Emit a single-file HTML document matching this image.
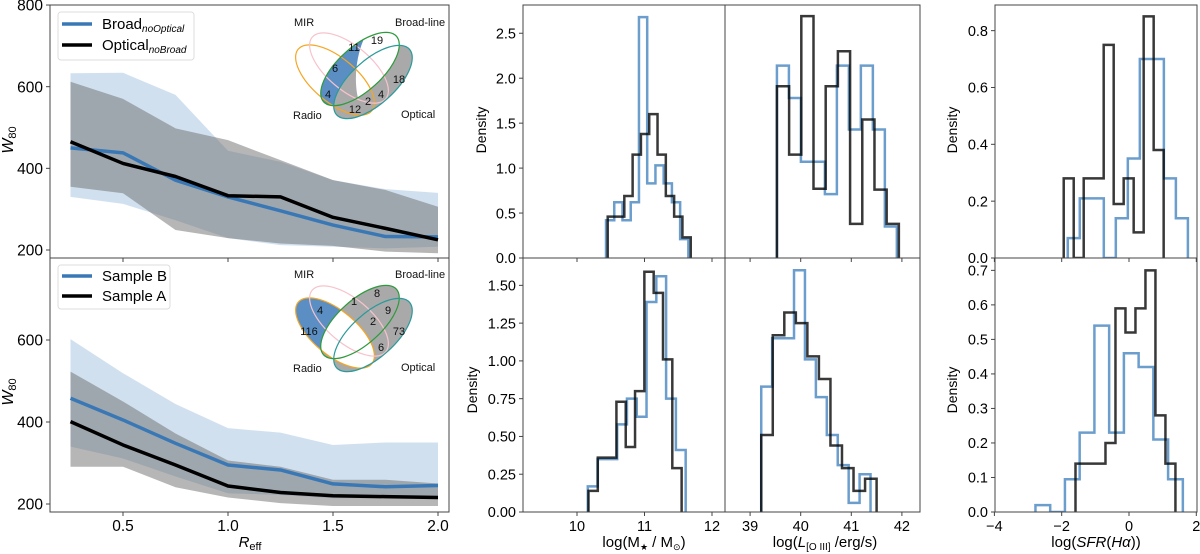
<!DOCTYPE html>
<html><head><meta charset="utf-8"><style>
body{margin:0;background:#fff;}
svg{display:block;font-family:"Liberation Sans","DejaVu Sans",sans-serif;}
</style></head>
<body>
<svg id="fig" width="1200" height="554" viewBox="0 0 1200 554" xmlns="http://www.w3.org/2000/svg">
<defs>
<clipPath id="clipTL"><rect x="50" y="5" width="399" height="253"/></clipPath>
<clipPath id="clipBL"><rect x="50" y="258" width="399" height="254"/></clipPath>
<clipPath id="cTM1"><rect x="523" y="0" width="202" height="258"/></clipPath>
<clipPath id="cTM2"><rect x="725" y="0" width="195" height="258"/></clipPath>
<clipPath id="cTR"><rect x="995" y="0" width="202" height="258"/></clipPath>
<clipPath id="cBM1"><rect x="523" y="250" width="202" height="262"/></clipPath>
<clipPath id="cBM2"><rect x="725" y="250" width="195" height="262"/></clipPath>
<clipPath id="cBR"><rect x="995" y="250" width="202" height="262"/></clipPath>
<clipPath id="vtTeal"><ellipse cx="373" cy="82" rx="49" ry="22" transform="rotate(-42 373 82)"/></clipPath>
<clipPath id="vbOrange"><ellipse cx="335" cy="333" rx="48" ry="22" transform="rotate(40 335 333)"/></clipPath>
</defs>
<g id="content"></g>

<!-- top venn -->
<g>
<ellipse cx="360" cy="69" rx="49" ry="22" transform="rotate(-42 360 69)" fill="#5b8fc4"/>
<ellipse cx="373" cy="82" rx="49" ry="22" transform="rotate(-42 373 82)" fill="#a9a9a9"/>
<ellipse cx="360" cy="69" rx="49" ry="22" transform="rotate(-42 360 69)" fill="#fff" clip-path="url(#vtTeal)"/>
<ellipse cx="335" cy="80" rx="48" ry="22" transform="rotate(40 335 80)" fill="none" stroke="#f5a623" stroke-width="1.2"/>
<ellipse cx="349" cy="68" rx="48" ry="22" transform="rotate(40 349 68)" fill="none" stroke="#f7c3cc" stroke-width="1.2"/>
<ellipse cx="360" cy="69" rx="49" ry="22" transform="rotate(-42 360 69)" fill="none" stroke="#2e9a3c" stroke-width="1.2"/>
<ellipse cx="373" cy="82" rx="49" ry="22" transform="rotate(-42 373 82)" fill="none" stroke="#2a9a9a" stroke-width="1.2"/>
<g font-size="11" fill="#111" text-anchor="middle">
<text x="377" y="44">19</text><text x="354" y="51">11</text><text x="335" y="72">6</text>
<text x="399" y="83">18</text><text x="328" y="98">4</text><text x="381" y="98">4</text>
<text x="368" y="105">2</text><text x="355" y="113">12</text>
</g>
<g font-size="11" fill="#111">
<text x="294" y="26">MIR</text><text x="395" y="26">Broad-line</text>
<text x="293" y="119">Radio</text><text x="401" y="118">Optical</text>
</g>
</g>

<!-- bottom venn -->
<g>
<ellipse cx="335" cy="333" rx="48" ry="22" transform="rotate(40 335 333)" fill="#5b8fc4"/>
<ellipse cx="360" cy="322" rx="49" ry="22" transform="rotate(-42 360 322)" fill="#a9a9a9"/>
<ellipse cx="373" cy="335" rx="49" ry="22" transform="rotate(-42 373 335)" fill="#a9a9a9"/>
<g clip-path="url(#vbOrange)">
<ellipse cx="360" cy="322" rx="49" ry="22" transform="rotate(-42 360 322)" fill="#fff"/>
<ellipse cx="373" cy="335" rx="49" ry="22" transform="rotate(-42 373 335)" fill="#fff"/>
</g>
<ellipse cx="335" cy="333" rx="48" ry="22" transform="rotate(40 335 333)" fill="none" stroke="#f5a623" stroke-width="1.2"/>
<ellipse cx="349" cy="321" rx="48" ry="22" transform="rotate(40 349 321)" fill="none" stroke="#f7c3cc" stroke-width="1.2"/>
<ellipse cx="360" cy="322" rx="49" ry="22" transform="rotate(-42 360 322)" fill="none" stroke="#2e9a3c" stroke-width="1.2"/>
<ellipse cx="373" cy="335" rx="49" ry="22" transform="rotate(-42 373 335)" fill="none" stroke="#2a9a9a" stroke-width="1.2"/>
<g font-size="11" fill="#111" text-anchor="middle">
<text x="377" y="297">8</text><text x="354" y="305">1</text><text x="320" y="314">4</text>
<text x="388" y="314">9</text><text x="373" y="325">2</text><text x="309" y="335">116</text>
<text x="399" y="335">73</text><text x="381" y="351">6</text>
</g>
<g font-size="11" fill="#111">
<text x="294" y="278">MIR</text><text x="395" y="278">Broad-line</text>
<text x="293" y="372">Radio</text><text x="401" y="371">Optical</text>
</g>
</g>

<!-- legends -->
<g>
<rect x="58" y="12" width="136" height="48" rx="3" fill="#fff" fill-opacity="0.85" stroke="#ddd"/>
<g><line x1="62" y1="24" x2="92" y2="24" stroke="#3a78b5" stroke-width="3.5"/>
<text x="102" y="29" font-size="15">Broad<tspan font-size="10" font-style="italic" dy="3">noOptical</tspan></text></g>
<g><line x1="62" y1="45" x2="92" y2="45" stroke="#000" stroke-width="3.5"/>
<text x="102" y="50" font-size="15">Optical<tspan font-size="10" font-style="italic" dy="3">noBroad</tspan></text></g>
</g>
<g>
<rect x="58" y="265" width="112" height="44" rx="3" fill="#fff" fill-opacity="0.85" stroke="#ddd"/>
<g><line x1="62" y1="276" x2="92" y2="276" stroke="#3a78b5" stroke-width="3.5"/>
<text x="102" y="281" font-size="15">Sample B</text></g>
<g><line x1="62" y1="296" x2="92" y2="296" stroke="#000" stroke-width="3.5"/>
<text x="102" y="301" font-size="15">Sample A</text></g>
</g>

<!-- axis titles -->
<text transform="translate(13,140) rotate(-90)" font-size="16" font-style="italic" text-anchor="middle">W<tspan font-size="11" font-style="normal" dy="3">80</tspan></text>
<text transform="translate(13,392) rotate(-90)" font-size="16" font-style="italic" text-anchor="middle">W<tspan font-size="11" font-style="normal" dy="3">80</tspan></text>
<text x="250" y="547" font-size="15" font-style="italic" text-anchor="middle">R<tspan font-size="11" font-style="normal" dy="3">eff</tspan></text>
<text transform="translate(486,130) rotate(-90)" font-size="14" text-anchor="middle">Density</text>
<text transform="translate(477,390) rotate(-90)" font-size="14" text-anchor="middle">Density</text>
<text transform="translate(957,130) rotate(-90)" font-size="14" text-anchor="middle">Density</text>
<text transform="translate(957,390) rotate(-90)" font-size="14" text-anchor="middle">Density</text>
<text x="644" y="547" font-size="15" text-anchor="middle">log(M<tspan font-size="9" dy="3">★</tspan><tspan dy="-3"> / M</tspan><tspan font-size="9" dy="3">⊙</tspan><tspan dy="-3">)</tspan></text>
<text x="825" y="547" font-size="15" text-anchor="middle">log(<tspan font-style="italic">L</tspan><tspan font-size="10" dy="3">[O III]</tspan><tspan dy="-3"> /erg/s)</tspan></text>
<text x="1096" y="547" font-size="15" text-anchor="middle">log(<tspan font-style="italic">SFR</tspan>(<tspan font-style="italic">Hα</tspan>))</text>
</svg>

<script>
// ---- left panels data ----
const reff = [0.25, 0.5, 0.75, 1.0, 1.25, 1.5, 1.75, 2.0];
const topBlueMed = [450, 438, 371, 330, 296, 261, 233, 232];
const topBlueLo  = [330, 313, 273, 229, 212, 208, 204, 208];
const topBlueHi  = [633, 634, 580, 443, 416, 371, 349, 340];
const topGreyMed = [465, 412, 380, 333, 330, 280, 253, 225];
const topGreyLo  = [355, 339, 249, 229, 216, 210, 196, 192];
const topGreyHi  = [612, 570, 498, 469, 420, 371, 347, 306];
const botBlueMed = [458, 405, 348, 295, 283, 249, 242, 245];
const botBlueLo  = [340, 311, 267, 226, 222, 214, 214, 214];
const botBlueHi  = [602, 519, 444, 385, 374, 344, 350, 350];
const botGreyMed = [401, 344, 295, 244, 228, 220, 218, 216];
const botGreyLo  = [291, 291, 241, 216, 202, 195, 195, 195];
const botGreyHi  = [523, 450, 372, 306, 291, 259, 259, 250];
const leftYTicks = [200, 400, 600, 800];
const leftXTicks = [0.5, 1.0, 1.5, 2.0];

// ---- histogram data (bin start, bin width, heights) ----
const massTopBlue = [10.43, 0.122, [0.42,0.62,0.42,0.62,2.68,0.83,1.03,0.83,0.62,0.21]];
const massTopBlack = [10.455, 0.123, [0.46,0.46,0.69,1.15,1.38,1.60,1.15,0.69,0.46,0.23]];
const oiiiTopBlue = [39.53, 0.237, [2.14,1.78,1.07,1.07,0.71,2.14,1.43,2.14,1.43,0.35]];
const oiiiTopBlack = [39.53, 0.241, [1.91,1.15,2.69,0.77,1.91,2.30,0.38,1.54,0.76,0.38]];
const sfrTopBlue = [-1.82, 0.357, [0.07,0.21,0.21,0,0.14,0.35,0.70,0.70,0.28,0.14]];
const sfrTopBlack = [-1.94, 0.297, [0.28,0,0.28,0.28,0.75,0.19,0.28,0.09,0.85,0.38]];
const massBotBlue = [10.16, 0.145, [0.17,0.35,0.35,0.58,0.75,0.63,1.39,1.56,0.75,0.41]];
const massBotBlack = [10.17, 0.138, [0.14,0.36,0.36,0.73,0.43,0.80,1.59,1.45,1.01,0.29]];
const oiiiBotBlue = [39.22, 0.216, [0.83,1.15,1.15,1.60,1.01,0.76,0.51,0.31,0.06,0.25]];
const oiiiBotBlack = [39.22, 0.228, [0.51,1.17,1.32,1.25,1.03,0.88,0.44,0.29,0.14,0.22]];
const sfrBotBlue = [-2.78, 0.438, [0.02,0,0.095,0.23,0.54,0.23,0.46,0.42,0.21,0.095]];
const sfrBotBlack = [-1.59, 0.297, [0.14,0.14,0.14,0.20,0.59,0.52,0.59,0.70,0.28,0.14]];
const ticksTopMid = [0, 0.5, 1.0, 1.5, 2.0, 2.5];
const ticksTopRight = [0, 0.2, 0.4, 0.6, 0.8];
const ticksBotMid = [0, 0.25, 0.5, 0.75, 1.0, 1.25, 1.5];
const ticksBotRight = [0, 0.1, 0.2, 0.3, 0.4, 0.5, 0.6, 0.7];
const ticksMass = [10, 11, 12];
const ticksOiii = [39, 40, 41, 42];
const ticksSfr = [-4, -2, 0, 2];

const NS = 'http://www.w3.org/2000/svg';
const root = document.getElementById('content');
function mk(tag, attrs, parent) {
  const e = document.createElementNS(NS, tag);
  for (const k in attrs) e.setAttribute(k, attrs[k]);
  (parent || root).appendChild(e);
  return e;
}
const xL = r => 123 + (r - 0.5) * 210;
const yT = v => 250 - (v - 200) * 0.4083;
const yB = v => 504 - (v - 200) * 0.41;

function band(lo, hi, ys, fill, clip, name) {
  let d = 'M' + reff.map((r, i) => xL(r) + ',' + ys(hi[i])).join('L');
  d += 'L' + reff.slice().reverse().map((r, j) => { const i = reff.length - 1 - j; return xL(r) + ',' + ys(lo[i]); }).join('L') + 'Z';
  const p = mk('path', {d: d, fill: fill, 'clip-path': clip});
  
  
}
function line(vals, ys, color, clip, name) {
  const d = 'M' + reff.map((r, i) => xL(r) + ',' + ys(vals[i])).join('L');
  const p = mk('path', {d: d, fill: 'none', stroke: color, 'stroke-width': 3.5, 'stroke-linejoin': 'round', 'clip-path': clip});
  
  
}
band(topBlueLo, topBlueHi, yT, 'rgba(70,130,190,0.25)', 'url(#clipTL)', 'band-broad-top');
band(topGreyLo, topGreyHi, yT, 'rgba(110,110,110,0.5)', 'url(#clipTL)', 'band-optical-top');
line(topBlueMed, yT, '#3a78b5', 'url(#clipTL)', 'line-broad-top');
line(topGreyMed, yT, '#000', 'url(#clipTL)', 'line-optical-top');
band(botBlueLo, botBlueHi, yB, 'rgba(70,130,190,0.25)', 'url(#clipBL)', 'band-sample-b');
band(botGreyLo, botGreyHi, yB, 'rgba(110,110,110,0.5)', 'url(#clipBL)', 'band-sample-a');
line(botBlueMed, yB, '#3a78b5', 'url(#clipBL)', 'line-sample-b');
line(botGreyMed, yB, '#000', 'url(#clipBL)', 'line-sample-a');

function frame(x, y, w, h, name) {
  const r = mk('rect', {x: x, y: y, width: w, height: h, fill: 'none', stroke: '#444', 'stroke-width': 1});
  
  
}
function yTicks(ticks, ys, x, fmt, fs, name) {
  ticks.forEach(t => {
    const y = ys(t);
    mk('line', {x1: x - 4, x2: x, y1: y, y2: y, stroke: '#444'});
    const tx = mk('text', {x: x - 7, y: y + fs * 0.36, 'font-size': fs, 'text-anchor': 'end'});
    tx.textContent = fmt(t);
    
    
  });
}
function xTicks(ticks, xs, y, fmt, fs, name, labels) {
  ticks.forEach(t => {
    const x = xs(t);
    mk('line', {x1: x, x2: x, y1: y, y2: y + 4, stroke: '#444'});
    if (labels) {
      const tx = mk('text', {x: x, y: y + 19, 'font-size': fs, 'text-anchor': 'middle'});
      tx.textContent = fmt(t);
      
      
    }
  });
}
frame(50, 5, 399, 253, 'panel-top-left');
frame(50, 258, 399, 254, 'panel-bottom-left');
yTicks(leftYTicks, yT, 50, v => String(v), 15.5, 'y-tick-label');
yTicks(leftYTicks.slice(0, 3), yB, 50, v => String(v), 15.5, 'y-tick-label');
xTicks(leftXTicks, xL, 258, v => v.toFixed(1), 15.5, 'x-tick-label', false);
xTicks(leftXTicks, xL, 512, v => v.toFixed(1), 15.5, 'x-tick-label', true);

// ---- histograms ----
const xm = v => 577 + (v - 10) * 67.5;
const xo = v => 800.7 + (v - 40) * 50.6;
const xs = v => 1129 + v * 33.65;
const yTM = h => 258 - h * 89.9;
const yTR = h => 258 - h * 284.2;
const yBM = h => 512 - h * 151.1;
const yBR = h => 512 - h * 345.2;

function hist(spec, xf, yf, color, clip, name) {
  const start = spec[0], w = spec[1], hs = spec[2];
  let d = 'M' + xf(start) + ',' + yf(0);
  hs.forEach((h, i) => { d += 'V' + yf(h) + 'H' + xf(start + (i + 1) * w); });
  d += 'V' + yf(0);
  const p = mk('path', {d: d, fill: 'none', stroke: color, 'stroke-width': 2.5, 'clip-path': clip});
  
  
}
const BL = 'rgba(50,120,185,0.72)', BK = 'rgba(0,0,0,0.78)';
hist(massTopBlue, xm, yTM, BL, 'url(#cTM1)', 'hist-mass-top-blue');
hist(massTopBlack, xm, yTM, BK, 'url(#cTM1)', 'hist-mass-top-black');
hist(oiiiTopBlue, xo, yTM, BL, 'url(#cTM2)', 'hist-oiii-top-blue');
hist(oiiiTopBlack, xo, yTM, BK, 'url(#cTM2)', 'hist-oiii-top-black');
hist(sfrTopBlue, xs, yTR, BL, 'url(#cTR)', 'hist-sfr-top-blue');
hist(sfrTopBlack, xs, yTR, BK, 'url(#cTR)', 'hist-sfr-top-black');
hist(massBotBlue, xm, yBM, BL, 'url(#cBM1)', 'hist-mass-bottom-blue');
hist(massBotBlack, xm, yBM, BK, 'url(#cBM1)', 'hist-mass-bottom-black');
hist(oiiiBotBlue, xo, yBM, BL, 'url(#cBM2)', 'hist-oiii-bottom-blue');
hist(oiiiBotBlack, xo, yBM, BK, 'url(#cBM2)', 'hist-oiii-bottom-black');
hist(sfrBotBlue, xs, yBR, BL, 'url(#cBR)', 'hist-sfr-bottom-blue');
hist(sfrBotBlack, xs, yBR, BK, 'url(#cBR)', 'hist-sfr-bottom-black');

frame(523, 5, 202, 253, 'panel-top-mass');
frame(725, 5, 195, 253, 'panel-top-oiii');
frame(995, 5, 202, 253, 'panel-top-sfr');
frame(523, 258, 202, 254, 'panel-bottom-mass');
frame(725, 258, 195, 254, 'panel-bottom-oiii');
frame(995, 258, 202, 254, 'panel-bottom-sfr');
yTicks(ticksTopMid, yTM, 523, v => v.toFixed(1), 14.5, 'y-tick-label');
yTicks(ticksTopRight, yTR, 995, v => v.toFixed(1), 14.5, 'y-tick-label');
yTicks(ticksBotMid, yBM, 523, v => v.toFixed(2), 14.5, 'y-tick-label');
yTicks(ticksBotRight, yBR, 995, v => v.toFixed(1), 14.5, 'y-tick-label');
xTicks(ticksMass, xm, 258, String, 14.5, 'x-tick-label', false);
xTicks(ticksOiii, xo, 258, String, 14.5, 'x-tick-label', false);
xTicks(ticksSfr, xs, 258, String, 14.5, 'x-tick-label', false);
xTicks(ticksMass, xm, 512, String, 14.5, 'x-tick-label', true);
xTicks(ticksOiii, xo, 512, String, 14.5, 'x-tick-label', true);
xTicks(ticksSfr, xs, 512, v => String(v).replace('-', '\u2212'), 14.5, 'x-tick-label', true);
</script>
</body></html>
